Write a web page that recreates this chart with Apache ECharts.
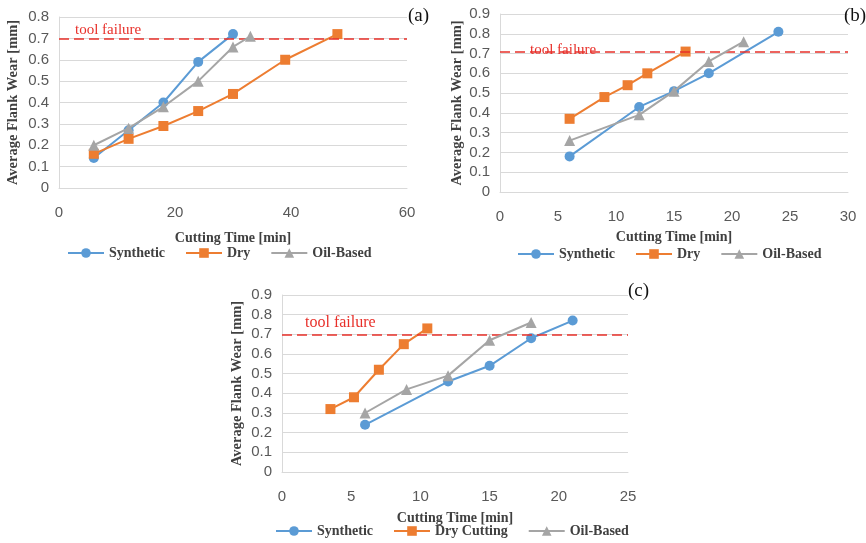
<!DOCTYPE html>
<html>
<head>
<meta charset="utf-8">
<script src="https://cdn.jsdelivr.net/npm/echarts@6/dist/echarts.min.js"></script>
<style>html,body{margin:0;padding:0;background:#fff}#c{width:866px;height:543px}</style>
</head>
<body>
<div id="c"></div>
<script>
// ---- data ----
const panelLabels = ['(a)', '(b)', '(c)'];
const xTitle = 'Cutting Time [min]';
const yTitle = 'Average Flank Wear [mm]';
const toolFailure = [0.70, 0.71, 0.70];
const xMax = [60, 30, 25];
const xInterval = [20, 5, 5];
const yMax = [0.8, 0.9, 0.9];

// (a)
const aSynX = [6, 12, 18, 24, 30];
const aSynY = [0.14, 0.27, 0.40, 0.59, 0.72];
const aDryX = [6, 12, 18, 24, 30, 39, 48];
const aDryY = [0.16, 0.23, 0.29, 0.36, 0.44, 0.60, 0.72];
const aOilX = [6, 12, 18, 24, 30, 33];
const aOilY = [0.20, 0.28, 0.38, 0.50, 0.66, 0.71];
// (b)
const bSynX = [6, 12, 15, 18, 24];
const bSynY = [0.18, 0.43, 0.51, 0.60, 0.81];
const bDryX = [6, 9, 11, 12.7, 16];
const bDryY = [0.37, 0.48, 0.54, 0.60, 0.71];
const bOilX = [6, 12, 15, 18, 21];
const bOilY = [0.26, 0.39, 0.51, 0.66, 0.76];
// (c)
const cSynX = [6, 12, 15, 18, 21];
const cSynY = [0.24, 0.46, 0.54, 0.68, 0.77];
const cDryX = [3.5, 5.2, 7, 8.8, 10.5];
const cDryY = [0.32, 0.38, 0.52, 0.65, 0.73];
const cOilX = [6, 9, 12, 15, 18];
const cOilY = [0.30, 0.42, 0.49, 0.67, 0.76];

const seriesNames = [
  ['Synthetic', 'Dry', 'Oil-Based'],
  ['Synthetic', 'Dry', 'Oil-Based'],
  ['Synthetic', 'Dry Cutting', 'Oil-Based']
];
const panelData = [
  [[aSynX, aSynY], [aDryX, aDryY], [aOilX, aOilY]],
  [[bSynX, bSynY], [bDryX, bDryY], [bOilX, bOilY]],
  [[cSynX, cSynY], [cDryX, cDryY], [cOilX, cOilY]]
];

// ---- styles / layout ----
const colors = ['#5B9BD5', '#ED7D31', '#A5A5A5'];
const symbols = ['circle', 'rect', 'triangle'];
const grids = [
  {left: 59, right: 459, top: 17, bottom: 355},
  {left: 500, right: 18, top: 14, bottom: 351},
  {left: 282, right: 238, top: 295, bottom: 71}
];
const xNameGap = [43, 38, 39];
const yNameGap = [38, 35, 37];
const legendPos = [{left: 67, top: 246}, {left: 517, top: 247}, {left: 275, top: 524}];
const titlePos = [{left: 403, top: 2}, {left: 839, top: 2}, {left: 623, top: 277}];
const failLabelPad = [[0, 0, 1, 16], [0, 0, -6, 30], [0, 0, 4, 23]];

const serif = '"Liberation Serif","Times New Roman",serif';
const sans = '"Liberation Sans",Arial,sans-serif';

const xAxes = [], yAxes = [], series = [], legends = [], titles = [];
for (let p = 0; p < 3; p++) {
  xAxes.push({
    type: 'value', gridIndex: p, min: 0, max: xMax[p], interval: xInterval[p],
    name: xTitle, nameLocation: 'middle', nameGap: xNameGap[p],
    nameTextStyle: {fontFamily: serif, fontWeight: 'bold', fontSize: 14, color: '#404040'},
    axisLine: {show: true, lineStyle: {color: '#D9D9D9', width: 1}},
    axisTick: {show: false},
    splitLine: {show: false},
    axisLabel: {fontFamily: sans, fontSize: 15, color: '#595959', margin: 17}
  });
  yAxes.push({
    type: 'value', gridIndex: p, min: 0, max: yMax[p], interval: 0.1,
    name: yTitle, nameLocation: 'middle', nameGap: yNameGap[p],
    nameTextStyle: {fontFamily: serif, fontWeight: 'bold', fontSize: 14.5, color: '#404040'},
    axisLine: {show: true, lineStyle: {color: '#D9D9D9', width: 1}},
    axisTick: {show: false},
    splitLine: {show: true, lineStyle: {color: '#D9D9D9', width: 1}},
    axisLabel: {fontFamily: sans, fontSize: 15, color: '#595959', margin: 10,
      formatter: v => (Math.round(v * 10) / 10).toString()}
  });
  for (let s = 0; s < 3; s++) {
    const xs = panelData[p][s][0], ys = panelData[p][s][1];
    const ser = {
      type: 'line', name: seriesNames[p][s], xAxisIndex: p, yAxisIndex: p,
      data: xs.map((x, i) => [x, ys[i]]),
      symbol: symbols[s], symbolSize: s === 2 ? 11 : 10,
      lineStyle: {color: colors[s], width: 2},
      itemStyle: {color: colors[s]},
      z: 3 + s
    };
    if (s === 0) {
      ser.markLine = {
        silent: true, symbol: ['none', 'none'], animation: false,
        lineStyle: {color: '#E8302A', type: [10, 5], width: 1.5},
        label: {show: true, formatter: 'tool failure', position: 'insideStartTop',
          distance: 0, padding: failLabelPad[p],
          fontFamily: serif, fontSize: p === 2 ? 16 : 15, color: '#E8302A'},
        data: [{yAxis: toolFailure[p]}]
      };
    }
    series.push(ser);
  }
  legends.push(Object.assign({
    data: seriesNames[p], orient: 'horizontal', itemWidth: 36, itemHeight: 12, itemGap: 20,
    padding: 0,
    textStyle: {fontFamily: serif, fontWeight: 'bold', fontSize: 14, color: '#404040'},
    selectedMode: false
  }, legendPos[p]));
  titles.push(Object.assign({
    text: panelLabels[p],
    textStyle: {fontFamily: serif, fontWeight: 'normal', fontSize: 19, color: '#111'}
  }, titlePos[p]));
}

const chart = echarts.init(document.getElementById('c'), null, {renderer: 'canvas'});
chart.setOption({
  animation: false,
  backgroundColor: '#fff',
  title: titles,
  grid: grids,
  xAxis: xAxes,
  yAxis: yAxes,
  legend: legends,
  series: series
});
</script>
</body>
</html>
